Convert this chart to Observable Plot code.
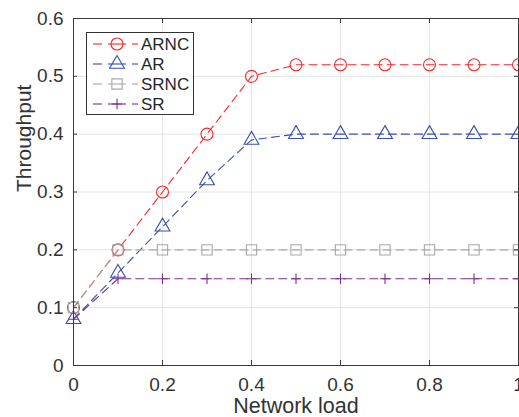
<!DOCTYPE html>
<html>
<head>
<meta charset="utf-8">
<script src="https://cdn.jsdelivr.net/npm/d3@7"></script>
<script src="https://cdn.jsdelivr.net/npm/@observablehq/plot@0.6"></script>
<style>
  html, body { margin: 0; padding: 0; background: #fff; }
  #chart { position: relative; width: 519px; height: 417px; overflow: hidden; font-family: "Liberation Sans", Arial, Helvetica, sans-serif; }
  #legend { position: absolute; left: 86px; top: 32px; width: 108px; height: 83px; border: 1px solid #333; background: #fff; box-sizing: border-box; padding-top: 1px; }
  .row { display: flex; align-items: center; height: 20px; }
  .row svg { display: block; }
  .row span { font-size: 17px; color: #262626; margin-left: 2px; line-height: 1; }
</style>
</head>
<body>
<div id="chart"></div>
<script>
const networkLoad = [0, 0.1, 0.2, 0.3, 0.4, 0.5, 0.6, 0.7, 0.8, 0.9, 1];
const arnc = [0.10, 0.20, 0.30, 0.40, 0.50, 0.52, 0.52, 0.52, 0.52, 0.52, 0.52];
const ar   = [0.08, 0.16, 0.24, 0.32, 0.39, 0.40, 0.40, 0.40, 0.40, 0.40, 0.40];
const srnc = [0.10, 0.20, 0.20, 0.20, 0.20, 0.20, 0.20, 0.20, 0.20, 0.20, 0.20];
const sr   = [0.08, 0.15, 0.15, 0.15, 0.15, 0.15, 0.15, 0.15, 0.15, 0.15, 0.15];

const seriesNames = ["ARNC", "AR", "SRNC", "SR"];
const seriesValues = [arnc, ar, srnc, sr];
const seriesColors = ["#f22a2a", "#3a4fb0", "#a8a8a8", "#7e2f8e"];
const seriesSymbols = ["circle", "triangle", "square", "plus"];
const seriesR = [6, 5.5, 5.8, 3.4];

const xTicks = [0, 0.2, 0.4, 0.6, 0.8, 1];
const xTickLabels = ["0", "0.2", "0.4", "0.6", "0.8", "1"];
const yTicks = [0, 0.1, 0.2, 0.3, 0.4, 0.5, 0.6];
const yTickLabels = ["0", "0.1", "0.2", "0.3", "0.4", "0.5", "0.6"];
const xLabel = "Network load";
const yLabel = "Throughput";

const series = seriesNames.map((name, i) => ({
  name, color: seriesColors[i], symbol: seriesSymbols[i], r: seriesR[i],
  data: networkLoad.map((x, j) => ({x, y: seriesValues[i][j]}))
}));

const axisColor = "#3a3a3a";
const marks = [
  Plot.ruleX(xTicks, {x: d => d, stroke: "#e4e4e4", strokeWidth: 1}),
  Plot.ruleY(yTicks, {y: d => d, stroke: "#e4e4e4", strokeWidth: 1}),
];
for (const s of series) {
  marks.push(Plot.line(s.data, {x: "x", y: "y", stroke: s.color, strokeWidth: 1.1, strokeDasharray: "8,5"}));
}
for (const s of series) {
  marks.push(Plot.dot(s.data, {x: "x", y: "y", symbol: s.symbol, r: s.r, stroke: s.color, fill: "none", strokeWidth: 1.1}));
}
marks.push(
  Plot.tickX(xTicks, {x: d => d, insetTop: 342, stroke: axisColor}),
  Plot.tickX(xTicks, {x: d => d, insetBottom: 342, stroke: axisColor}),
  Plot.tickY(yTicks, {y: d => d, insetRight: 441, stroke: axisColor}),
  Plot.tickY(yTicks, {y: d => d, insetLeft: 441, stroke: axisColor}),
  Plot.frame({stroke: axisColor, strokeWidth: 1}),
  Plot.text([xLabel], {frameAnchor: "bottom", dy: 47, text: d => d, fontSize: 21.5, fill: "#333"}),
  Plot.text([yLabel], {frameAnchor: "left", dx: -49, rotate: -90, text: d => d, fontSize: 21, fill: "#333"})
);

const plot = Plot.plot({
  width: 519, height: 417,
  marginLeft: 73, marginRight: 1, marginTop: 18, marginBottom: 52,
  style: {fontSize: "19px", fontFamily: '"Liberation Sans", Arial, Helvetica, sans-serif', color: "#333", background: "#fff", overflow: "visible"},
  x: {domain: [0, 1], ticks: xTicks, tickFormat: d => xTickLabels[xTicks.indexOf(d)], tickSize: 0, tickPadding: 12, label: null},
  y: {domain: [0, 0.6], ticks: yTicks, tickFormat: d => yTickLabels[yTicks.indexOf(d)], tickSize: 0, tickPadding: 10, label: null},
  marks
});
const chart = document.getElementById("chart");
chart.appendChild(plot);

// Legend
const symMap = {circle: d3.symbolCircle, triangle: d3.symbolTriangle, square: d3.symbolSquare, plus: d3.symbolPlus};
const legend = document.createElement("div");
legend.id = "legend";
for (const s of series) {
  const row = document.createElement("div");
  row.className = "row";
  const svg = d3.create("svg").attr("width", 52).attr("height", 18);
  const cy = 9;
  [[6, 15], [21, 39], [45, 51]].forEach(([a, b]) => {
    svg.append("line").attr("x1", a).attr("x2", b).attr("y1", cy).attr("y2", cy)
      .attr("stroke", s.color).attr("stroke-width", 1.1);
  });
  svg.append("path").attr("d", d3.symbol(symMap[s.symbol], Math.PI * s.r * s.r)())
    .attr("transform", `translate(30,${cy})`).attr("fill", "none").attr("stroke", s.color).attr("stroke-width", 1.1);
  row.appendChild(svg.node());
  const label = document.createElement("span");
  label.textContent = s.name;
  row.appendChild(label);
  legend.appendChild(row);
}
chart.appendChild(legend);
</script>
</body>
</html>
